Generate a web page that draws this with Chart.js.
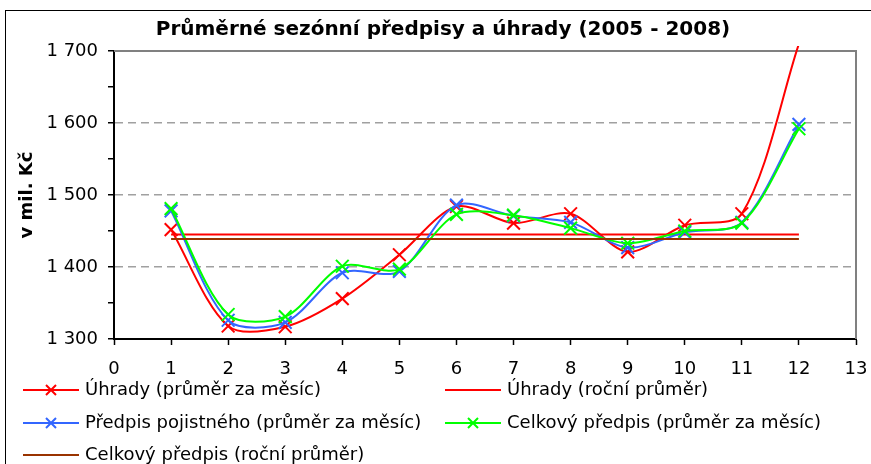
<!DOCTYPE html>
<html>
<head>
<meta charset="utf-8">
<script src="https://cdn.jsdelivr.net/npm/chart.js@4/dist/chart.umd.min.js"></script>
<style>
  html, body { margin: 0; padding: 0; background: #fff; }
</style>
</head>
<body>
<canvas id="chart" width="871" height="464"></canvas>
<script>
// Hodnoty (v mil. Kč)
var months = [1, 2, 3, 4, 5, 6, 7, 8, 9, 10, 11, 12];
var uhradyMesic = [1452, 1318, 1317, 1356, 1417, 1484, 1461, 1474, 1421, 1458, 1474, 1710];
var predpisMesic = [1478, 1326, 1323, 1392, 1394, 1486, 1471, 1462, 1427, 1448, 1462, 1598];
var celkovyMesic = [1481, 1334, 1331, 1401, 1397, 1473, 1472, 1454, 1433, 1450, 1461, 1592];
var uhradyRocni = 1445;
var celkovyRocni = 1439;
var yTicks = [1300, 1400, 1500, 1600, 1700];

var labels = [
  'Úhrady (průměr za měsíc)',
  'Úhrady (roční průměr)',
  'Předpis pojistného (průměr za měsíc)',
  'Celkový předpis (průměr za měsíc)',
  'Celkový předpis (roční průměr)'
];

function points(values) {
  return months.map(function (m, i) { return { x: m, y: values[i] }; });
}
function flat(value) {
  return months.map(function (m) { return { x: m, y: value }; });
}

var FONT = '"DejaVu Sans", sans-serif';

// ramecek kolem grafu + seda hranice plochy
var framePlugin = {
  id: 'frame',
  beforeDraw: function (chart) {
    var ctx = chart.ctx;
    ctx.save();
    ctx.fillStyle = '#fff';
    ctx.fillRect(0, 0, chart.width, chart.height);
    ctx.strokeStyle = '#000';
    ctx.lineWidth = 1;
    ctx.strokeRect(5.5, 10.5, chart.width + 20, chart.height + 20);
    ctx.restore();
  },
  beforeDatasetsDraw: function (chart) {
    var a = chart.chartArea, ctx = chart.ctx;
    ctx.save();
    ctx.strokeStyle = '#808080';
    ctx.lineWidth = 2;
    ctx.beginPath();
    ctx.moveTo(a.left, a.top);
    ctx.lineTo(a.right, a.top);
    ctx.lineTo(a.right, a.bottom);
    ctx.stroke();
    ctx.restore();
  }
};

// legenda ve dvou sloupcich jako v Excelu
var legendPos = [[23, 390], [445, 390], [23, 423], [445, 423], [23, 455]];
var legendPlugin = {
  id: 'legendGrid',
  afterDraw: function (chart) {
    var ctx = chart.ctx;
    ctx.save();
    chart.data.datasets.forEach(function (ds, i) {
      var x = legendPos[i][0], y = legendPos[i][1];
      ctx.strokeStyle = ds.borderColor;
      ctx.lineWidth = 2;
      ctx.beginPath();
      ctx.moveTo(x, y);
      ctx.lineTo(x + 56, y);
      ctx.stroke();
      if (ds.showMarker) {
        var cx = x + 28, r = 5;
        ctx.beginPath();
        ctx.moveTo(cx - r, y - r); ctx.lineTo(cx + r, y + r);
        ctx.moveTo(cx - r, y + r); ctx.lineTo(cx + r, y - r);
        ctx.stroke();
      }
      ctx.fillStyle = '#000';
      ctx.font = '18px ' + FONT;
      ctx.textBaseline = 'middle';
      ctx.textAlign = 'left';
      ctx.fillText(ds.label, x + 62, y);
    });
    ctx.restore();
  }
};

function series(label, data, color, marker, order) {
  return {
    label: label,
    data: data,
    borderColor: color,
    backgroundColor: color,
    borderWidth: 2,
    tension: 0.3,
    pointStyle: 'crossRot',
    pointRadius: marker ? function (c) { return c.raw && c.raw.y > 1700 ? 0 : 9; } : 0,
    pointBorderWidth: 2,
    pointBorderColor: color,
    showMarker: marker,
    order: order,
    fill: false
  };
}

var ds0 = series(labels[0], points(uhradyMesic), '#FF0000', true, 5);
ds0.clip = { left: 2, top: 5, right: 2, bottom: 2 };

var ctx = document.getElementById('chart').getContext('2d');
var chart = new Chart(ctx, {
  type: 'line',
  data: {
    datasets: [
      ds0,
      series(labels[1], flat(uhradyRocni), '#FF0000', false, 4),
      series(labels[2], points(predpisMesic), '#3366FF', true, 3),
      series(labels[3], points(celkovyMesic), '#00FF00', true, 2),
      series(labels[4], flat(celkovyRocni), '#993300', false, 1)
    ]
  },
  options: {
    responsive: false,
    animation: false,
    layout: { padding: { left: 15, top: 10, right: 0, bottom: 0 } },
    plugins: {
      legend: { display: false },
      tooltip: { enabled: false },
      title: {
        display: true,
        text: 'Průměrné sezónní předpisy a úhrady (2005 - 2008)',
        color: '#000',
        font: { family: FONT, size: 20, weight: 'bold' },
        padding: { top: 8, bottom: 9 }
      }
    },
    scales: {
      x: {
        type: 'linear',
        min: 0,
        max: 13,
        ticks: { stepSize: 1, color: '#000', font: { family: FONT, size: 18 }, padding: 14, maxRotation: 0 },
        grid: { drawOnChartArea: false, tickColor: '#000', tickLength: 6, tickWidth: 1.5 },
        border: { color: '#000', width: 2 },
        afterFit: function (s) { s.height = 125; s.paddingRight = 15; }
      },
      y: {
        min: 1300,
        max: 1700,
        ticks: {
          stepSize: 50,
          color: '#000',
          font: { family: FONT, size: 18 },
          padding: 10,
          callback: function (v) {
            if (yTicks.indexOf(v) < 0) return '';
            return String(v).replace(/\B(?=(\d{3})+(?!\d))/g, ' ');
          }
        },
        grid: {
          color: function (c) {
            var v = c.tick && c.tick.value;
            return (v > 1300 && v < 1700 && yTicks.indexOf(v) >= 0) ? '#A0A0A0' : 'rgba(0,0,0,0)';
          },
          lineWidth: 1.5,
          tickColor: '#000',
          tickLength: 6,
          tickWidth: 1.5
        },
        border: { color: '#000', width: 2, dash: [8, 5] },
        title: {
          display: true,
          text: 'v mil. Kč',
          color: '#000',
          font: { family: FONT, size: 18, weight: 'bold' },
          padding: { top: 2, bottom: 0 }
        },
        afterFit: function (s) { s.width = 99; }
      }
    }
  },
  plugins: [framePlugin, legendPlugin]
});
</script>
</body>
</html>
